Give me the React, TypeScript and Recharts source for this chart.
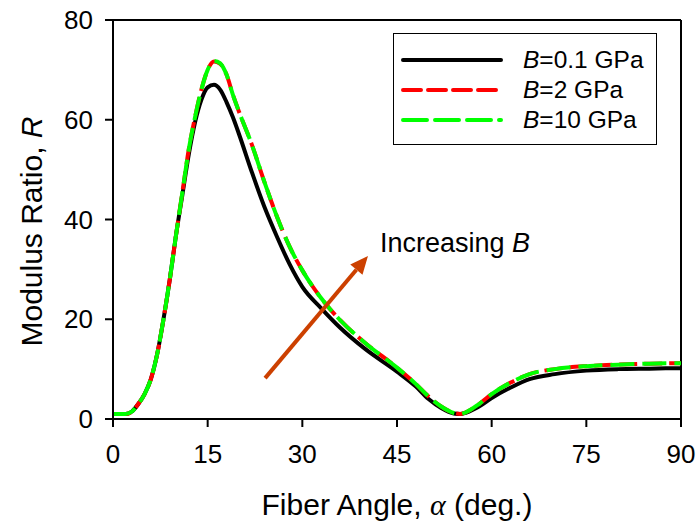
import React from "react";
import {
  LineChart,
  Line,
  XAxis,
  YAxis,
  ReferenceLine,
  ReferenceDot
} from "recharts";

const angles = [0, 2, 3, 4, 5, 6, 7, 8, 9, 10, 11, 12, 13, 14, 15, 16, 17, 18, 19, 20, 22, 24, 26, 28, 30, 33, 36, 40, 45, 48, 50, 52, 54, 55, 56, 58, 60, 63, 66, 70, 75, 80, 85, 90];

const rB01 = [1, 1, 1.5, 3, 5, 8, 13, 20, 28, 37, 45, 53, 59.5, 64, 66.5, 67, 66, 63.5, 60.5, 57, 49.5, 42.5, 36.5, 31, 26.5, 22.2, 18.3, 14, 9.5, 6.5, 4, 2.2, 1.1, 1, 1.3, 2.5, 4.2, 6.3, 8, 9, 9.7, 10, 10.1, 10.2];
const rB2 = [1, 1, 1.5, 3, 5, 8, 13, 20, 28, 37, 45.5, 54, 60.5, 66, 70, 71.7, 71.2, 69, 65, 61.5, 55, 47.5, 40.5, 34.5, 29.8, 24.2, 19.8, 15.2, 10.3, 7, 4.5, 2.5, 1.2, 1, 1.4, 3, 5, 7.3, 9, 10, 10.6, 10.9, 11.1, 11.2];
const rB10 = [1, 1, 1.5, 3, 5, 8, 13, 20, 28, 37, 45.5, 54, 60.5, 66, 70, 71.8, 71.3, 69, 65, 61.5, 55, 47.5, 40.5, 34.5, 29.8, 24.2, 19.8, 15.2, 10.3, 7, 4.5, 2.5, 1.2, 1, 1.4, 3, 5, 7.3, 9, 10, 10.6, 10.9, 11.1, 11.2];

const xTicks = [0, 15, 30, 45, 60, 75, 90];
const yTicks = [0, 20, 40, 60, 80];

const seriesNames = ["0.1 GPa", "2 GPa", "10 GPa"];

// arrow annotation, in data units
const arrowFrom = { x: 24.1, y: 8.2 };
const arrowTo = { x: 40.4, y: 32.7 };
const arrowText = { x: 42.3, y: 33.5 };

const data = angles.map((a, i) => ({ angle: a, b01: rB01[i], b2: rB2[i], b10: rB10[i] }));

const font = "'Liberation Sans', Arial, sans-serif";

const legendRows = [
  { name: seriesNames[0], stroke: "#000000", dash: undefined },
  { name: seriesNames[1], stroke: "#FF0000", dash: "18 7" },
  { name: seriesNames[2], stroke: "#00FF00", dash: "24 8" }
];

function LegendBox() {
  return (
    <div
      style={{
        position: "absolute",
        left: 393,
        top: 33,
        width: 262,
        height: 110,
        border: "1.5px solid #000",
        background: "#fff",
        fontFamily: font,
        fontSize: 24.5
      }}
    >
      {legendRows.map((r, i) => (
        <div key={i} style={{ display: "flex", alignItems: "center", height: 30, marginTop: i === 0 ? 11 : 0 }}>
          <svg width={112} height={10} style={{ marginLeft: 7 }}>
            <line x1={2} y1={5} x2={100} y2={5} stroke={r.stroke} strokeWidth={4} strokeDasharray={r.dash} strokeLinecap="round" />
          </svg>
          <span style={{ marginLeft: 10 }}>
            <i>B</i>={r.name}
          </span>
        </div>
      ))}
    </div>
  );
}

function Arrow(props: any) {
  const { x1, y1, x2, y2 } = props;
  const dx = x2 - x1;
  const dy = y2 - y1;
  const len = Math.sqrt(dx * dx + dy * dy);
  const ux = dx / len;
  const uy = dy / len;
  const hl = 18;
  const hw = 8;
  const bx = x2 - ux * hl;
  const by = y2 - uy * hl;
  const pts = `${x2},${y2} ${bx - uy * hw},${by + ux * hw} ${bx + uy * hw},${by - ux * hw}`;
  return (
    <g>
      <line x1={x1} y1={y1} x2={bx} y2={by} stroke="#CC4000" strokeWidth={4} />
      <polygon points={pts} fill="#CC4000" />
    </g>
  );
}

export default function App() {
  return (
    <div style={{ position: "absolute", left: 0, top: 0, width: 698, height: 527, background: "#fff" }}>
      <LineChart width={698} height={527} data={data} margin={{ top: 20, right: 17, left: 0, bottom: 0 }}>
        <XAxis
          dataKey="angle"
          type="number"
          domain={[0, 90]}
          ticks={xTicks}
          height={108}
          tickSize={8}
          tickMargin={18}
          axisLine={{ stroke: "#000", strokeWidth: 2 }}
          tickLine={{ stroke: "#000", strokeWidth: 2 }}
          tick={{ fill: "#000", fontSize: 26, fontFamily: font }}
          label={({ viewBox }: any) => (
            <text x={viewBox.x + viewBox.width / 2} y={515} textAnchor="middle" fontSize={30} fontFamily={font} fill="#000">
              Fiber Angle,{" "}
              <tspan fontFamily="'Liberation Serif', serif" fontStyle="italic">α</tspan> (deg.)
            </text>
          )}
        />
        <YAxis
          type="number"
          domain={[0, 80]}
          ticks={yTicks}
          width={113}
          tickSize={8}
          tickMargin={12}
          axisLine={{ stroke: "#000", strokeWidth: 2 }}
          tickLine={{ stroke: "#000", strokeWidth: 2 }}
          tick={{ fill: "#000", fontSize: 26, fontFamily: font }}
          label={({ viewBox }: any) => {
            const cy = viewBox.y + viewBox.height / 2 + 12;
            return (
              <text x={42} y={cy} transform={`rotate(-90, 42, ${cy})`} textAnchor="middle" fontSize={30} fontFamily={font} fill="#000">
                Modulus Ratio, <tspan fontStyle="italic">R</tspan>
              </text>
            );
          }}
        />
        <ReferenceLine y={80} stroke="#000" strokeWidth={2} />
        <ReferenceLine x={90} stroke="#000" strokeWidth={2} />
        <Line dataKey="b01" name={seriesNames[0]} type="monotone" stroke="#000000" strokeWidth={4} dot={false} isAnimationActive={false} />
        <Line dataKey="b2" name={seriesNames[1]} type="monotone" stroke="#FF0000" strokeWidth={4} strokeDasharray="18 7" dot={false} isAnimationActive={false} />
        <Line dataKey="b10" name={seriesNames[2]} type="monotone" stroke="#00FF00" strokeWidth={4} strokeDasharray="24 8" dot={false} isAnimationActive={false} />
        <ReferenceLine
          segment={[arrowFrom, arrowTo]}
          shape={(p: any) => <Arrow {...p} />}
        />
        <ReferenceDot
          x={arrowText.x}
          y={arrowText.y}
          r={0}
          shape={(p: any) => (
            <text x={p.cx} y={p.cy} fontSize={27} fontFamily={font} fill="#000">
              Increasing <tspan fontStyle="italic">B</tspan>
            </text>
          )}
        />
      </LineChart>
      <LegendBox />
    </div>
  );
}
